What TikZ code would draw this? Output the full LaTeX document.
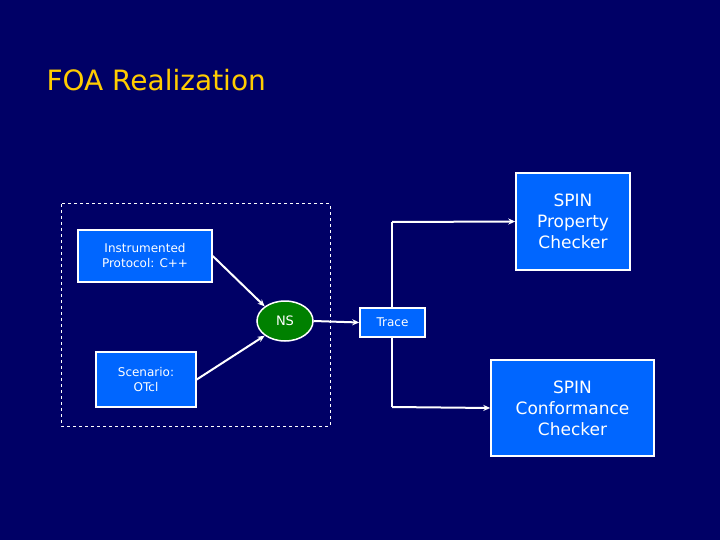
\documentclass[tikz,border=0pt]{standalone}
\usepackage{fontspec}
\setmainfont{DejaVu Sans}
\usetikzlibrary{shapes.geometric,arrows.meta}
\definecolor{bg}{RGB}{0,0,102}
\definecolor{boxb}{RGB}{0,102,255}
\definecolor{nsg}{RGB}{0,128,0}
\definecolor{ttl}{RGB}{255,204,0}
\begin{document}
\begin{tikzpicture}[x=1pt,y=-1pt,
  box/.style={draw=white,line width=1.5pt,fill=boxb,text=white,align=center,inner sep=2pt},
  arr/.style={draw=white,line width=2pt,-{Stealth[length=7pt,width=6pt]}}]
\fill[bg] (0,0) rectangle (720,540);
\useasboundingbox (0,0) rectangle (720,540);
\node[text=ttl,font=\fontsize{28}{30}\selectfont,anchor=west] (title) at (43,80) {FOA Realization};
\draw[white,dashed,line width=1pt] (61,204) rectangle (330,426);
\node[box,minimum width=134pt,minimum height=52pt,font=\fontsize{12}{15}\selectfont] (inst) at (145,256) {Instrumented\\Protocol: C++};
\node[box,minimum width=100pt,minimum height=55pt,font=\fontsize{12}{15}\selectfont] (scen) at (146,379.5) {Scenario:\\OTcl};
\node[ellipse,draw=white,line width=1.5pt,fill=nsg,text=white,minimum width=56pt,minimum height=40pt,inner sep=0pt,font=\fontsize{13}{15}\selectfont] (ns) at (285,321) {NS};
\node[box,minimum width=114pt,minimum height=97pt,font=\fontsize{17}{21}\selectfont] (prop) at (573,221.5) {SPIN\\Property\\Checker};
\node[box,minimum width=163pt,minimum height=96pt,font=\fontsize{17}{21}\selectfont] (conf) at (572.5,408) {SPIN\\Conformance\\Checker};
\coordinate (top) at (392,222);
\coordinate (bot) at (392,407);
\draw[white,line width=2pt] (top) -- (bot);
\draw[arr] (top) -- (prop.west);
\draw[arr] (bot) -- (conf.west);
\node[box,minimum width=65pt,minimum height=29pt,font=\fontsize{12}{15}\selectfont] (trace) at (392.5,322.5) {Trace};
\draw[arr] (ns.east) -- (trace.west);
\draw[arr] (inst.east) -- (ns.north west);
\draw[arr] (scen.east) -- (ns.south west);
\end{tikzpicture}
\end{document}
